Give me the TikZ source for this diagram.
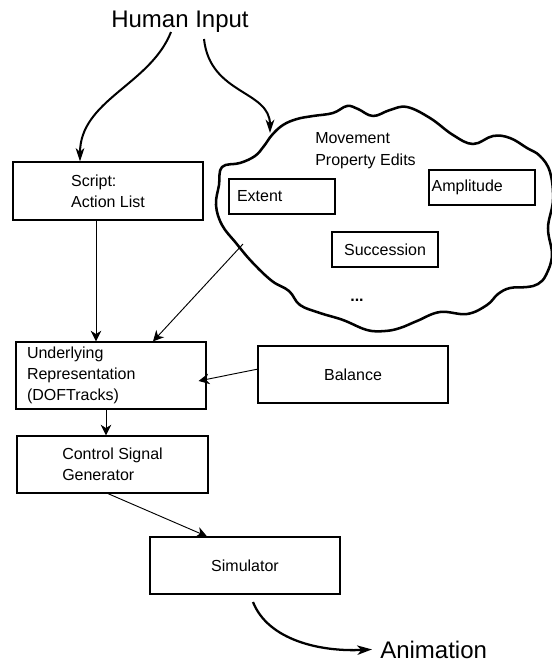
\documentclass[tikz,border=0pt]{standalone}
\usepackage{fontspec}
\setmainfont{Liberation Sans}
\usetikzlibrary{arrows.meta}
\begin{document}
\begin{tikzpicture}[x=0.75pt,y=-0.75pt,
  box/.style={draw, line width=0.9pt, inner sep=0pt, align=left,
    font=\fontsize{12}{16}\selectfont},
  bigbox/.style={box, minimum width=142.5pt, minimum height=42.75pt},
  smallbox/.style={box, minimum width=79.5pt, minimum height=26.25pt},
  conn/.style={line width=0.7pt, -{Stealth[length=8pt,width=8pt,inset=2.5pt]}},
  curvearrow/.style={line width=1.5pt, -{Stealth[length=10pt,width=6.5pt,inset=3pt]}},
  bigtext/.style={inner sep=0pt, font=\fontsize{18}{22}\selectfont},
  plaintext/.style={inner sep=0pt, align=left, font=\fontsize{12}{16}\selectfont}]
\useasboundingbox (0,0) rectangle (552,661);

% title
\node[bigtext, anchor=base] (human) at (180,27) {Human Input};

% boxes
\node[bigbox, minimum height=43.5pt] (script) at (108,191) {Script:\\Action List};
\node[bigbox, minimum height=50.25pt, text width=126pt, inner xsep=8.25pt] (under) at (111,375.5)
  {Underlying\\Representation\\(DOFTracks)};
\node[bigbox, minimum width=143.25pt] (control) at (112.5,464.5) {Control Signal\\Generator};
\node[bigbox] (sim) at (245,565.5) {Simulator};
\node[bigbox] (balance) at (353,374.5) {Balance};

% cloud
\draw[line width=1.9pt, line join=round] plot[smooth cycle, tension=0.65] coordinates {
  (222,167) (240,163) (255,156) (264,146) (272,135) (283,125) (297,119)
  (313,116) (333,113) (347,106) (358,109) (373,116) (390,110) (407,107)
  (430,118) (453,135) (473,144) (493,136) (510,138) (527,148) (540,156) (550,172)
  (553,200) (548,228) (552,255) (546,275) (538,284)
  (527,287) (510,288) (498,294) (487,305) (467,314) (440,312) (417,321)
  (400,328) (385,331) (367,330) (343,320) (320,313) (300,305) (289,291)
  (272,281) (252,262) (236,243) (222,225) (216,205) (219,185)};
\node[plaintext, anchor=west] (movement) at (315,150.5) {Movement\\Property Edits};
\node[smallbox, text width=67.5pt, inner xsep=6pt] (extent) at (282,196.5) {Extent};
\node[smallbox, text width=75.5pt, inner xsep=2pt] (ampl) at (482,187.5) {Amplitude};
\node[smallbox] (succ) at (385,249.5) {Succession};
\node[plaintext, anchor=base, font=\fontsize{12}{16}\selectfont\bfseries] (dots) at (357,301) {...};

\coordinate (cloudtop) at (270,133);
\coordinate (cloudpt) at (243,244);

% human input arrows
\coordinate (h1) at (171,32);
\coordinate (h2) at (204,39);
\draw[curvearrow] (h1) .. controls (150,85) and (80,100) .. ([xshift=-21pt]script.north);
\draw[curvearrow] (h2) .. controls (210,95) and (270,90) .. (cloudtop);

% connectors
\draw[conn] ([xshift=-9pt]script.south) -- ([xshift=-9pt]script.south |- under.north);
\draw[conn] (cloudpt) -- ([xshift=31.5pt]under.north);
\draw[conn] ([yshift=4pt]balance.west) -- ([xshift=-6pt,yshift=-4.1pt]under.east);
\draw[conn] ([xshift=-3.75pt]under.south) -- ([xshift=-3.75pt]under.south |- control.north);
\draw[conn] ([xshift=-3.4pt]control.south) -- ([xshift=-28.5pt]sim.north);

% animation
\node[bigtext, anchor=base west] (anim) at (380,658) {Animation};
\coordinate (s1) at (253,602);
\draw[line width=1.7pt, -{Stealth[length=11pt,width=7pt,inset=3pt]}]
  (s1) .. controls (268,640) and (320,652) .. ([xshift=-6pt]anim.west);
\end{tikzpicture}
\end{document}
